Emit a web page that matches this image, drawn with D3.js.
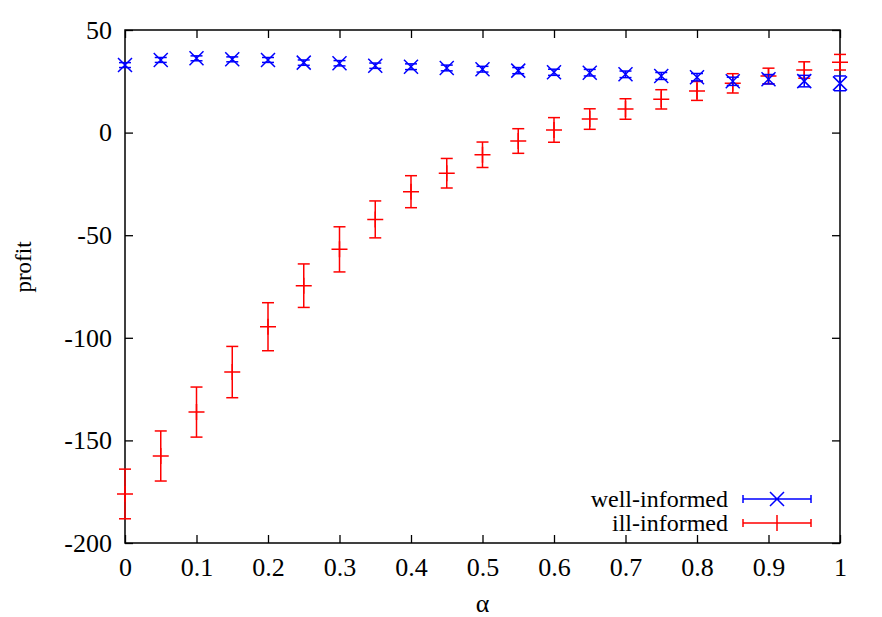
<!DOCTYPE html>
<html>
<head>
<meta charset="utf-8">
<script src="https://cdn.jsdelivr.net/npm/d3@7"></script>
<style>
  body { margin: 0; background: #fff; }
  svg text { font-family: "Times New Roman", "Liberation Serif", Times, Tinos, serif; fill: #000; }
</style>
</head>
<body>
<div id="container"></div>
<script>
var alphas = [0, 0.05, 0.1, 0.15, 0.2, 0.25, 0.3, 0.35, 0.4, 0.45, 0.5,
              0.55, 0.6, 0.65, 0.7, 0.75, 0.8, 0.85, 0.9, 0.95, 1];

var wellMean = [32.9, 35.4, 36.2, 35.7, 35.4, 34.1, 33.8, 32.6, 32.1, 31.5, 30.9,
                30.2, 29.4, 29.2, 28.4, 27.6, 27.0, 25.0, 26.0, 25.1, 24.0];
var wellErr  = [1.2, 1.2, 1.2, 1.2, 1.2, 1.3, 1.3, 1.3, 1.4, 1.4, 1.4,
                1.5, 1.5, 1.6, 1.6, 1.7, 1.8, 2.0, 2.3, 2.8, 3.6];

var illMean = [-176.1, -157.6, -136.2, -116.7, -94.6, -74.6, -56.9, -42.3, -28.8, -19.8, -10.8,
               -4.1, 1.3, 6.6, 11.5, 16.2, 20.3, 24.0, 27.6, 30.5, 34.3];
var illErr  = [12.1, 12.2, 12.2, 12.5, 11.7, 10.6, 11.0, 9.0, 7.8, 7.2, 6.2,
               6.0, 6.0, 5.0, 5.0, 4.7, 4.6, 4.7, 3.8, 4.0, 3.8];

var xTicks = [0, 0.1, 0.2, 0.3, 0.4, 0.5, 0.6, 0.7, 0.8, 0.9, 1];
var yTicks = [50, 0, -50, -100, -150, -200];

var WIDTH = 882, HEIGHT = 617;
var margin = {left: 125, right: 42, top: 30, bottom: 74};
var CAP = 6, MARK = 7, TICK = 8;

var svg = d3.select('#container').append('svg')
    .attr('width', WIDTH)
    .attr('height', HEIGHT);

var x = d3.scaleLinear().domain([0, 1]).range([margin.left, WIDTH - margin.right]);
var y = d3.scaleLinear().domain([-200, 50]).range([HEIGHT - margin.bottom, margin.top]);

// plain hyphen for negatives, like gnuplot
var plain = function(d) { return String(d); };

// axes with inward ticks on all four sides
var axisStyle = function(g) {
  g.attr('font-family', null).attr('font-size', null);
  g.select('.domain').remove();
  g.selectAll('line').attr('stroke', '#000').attr('stroke-width', 1.3);
  g.selectAll('text').style('font-size', '26px');
};

svg.append('g')
    .attr('transform', 'translate(0,' + y(-200) + ')')
    .call(d3.axisBottom(x).tickValues(xTicks).tickFormat(plain).tickSizeInner(-TICK).tickPadding(15))
    .call(axisStyle);
svg.append('g')
    .attr('transform', 'translate(0,' + y(50) + ')')
    .call(d3.axisTop(x).tickValues(xTicks).tickFormat('').tickSizeInner(-TICK))
    .call(axisStyle);
svg.append('g')
    .attr('transform', 'translate(' + x(0) + ',0)')
    .call(d3.axisLeft(y).tickValues(yTicks).tickFormat(plain).tickSizeInner(-TICK).tickPadding(13))
    .call(axisStyle);
svg.append('g')
    .attr('transform', 'translate(' + x(1) + ',0)')
    .call(d3.axisRight(y).tickValues(yTicks).tickFormat('').tickSizeInner(-TICK))
    .call(axisStyle);

svg.append('rect')
    .attr('x', x(0))
    .attr('y', y(50))
    .attr('width', x(1) - x(0))
    .attr('height', y(-200) - y(50))
    .attr('fill', 'none')
    .attr('stroke', '#000')
    .attr('stroke-width', 1.5);

// axis titles
svg.append('text')
    .attr('x', (x(0) + x(1)) / 2)
    .attr('y', 612)
    .attr('text-anchor', 'middle')
    .style('font-size', '26px')
    .text('α');
svg.append('text')
    .attr('transform', 'translate(31,267) rotate(-90)')
    .attr('text-anchor', 'middle')
    .style('font-size', '23px')
    .text('profit');

function drawSeries(means, errs, color, marker) {
  var data = alphas.map(function(a, i) { return {a: a, m: means[i], e: errs[i]}; });
  var g = svg.append('g')
      .attr('stroke', color)
      .attr('stroke-width', 1.5)
      .attr('fill', 'none');
  var pts = g.selectAll('g').data(data).enter().append('g');
  pts.append('line')
      .attr('x1', function(d) { return x(d.a); })
      .attr('x2', function(d) { return x(d.a); })
      .attr('y1', function(d) { return y(d.m - d.e); })
      .attr('y2', function(d) { return y(d.m + d.e); });
  [-1, 1].forEach(function(s) {
    pts.append('line')
        .attr('x1', function(d) { return x(d.a) - CAP; })
        .attr('x2', function(d) { return x(d.a) + CAP; })
        .attr('y1', function(d) { return y(d.m + s * d.e); })
        .attr('y2', function(d) { return y(d.m + s * d.e); });
  });
  pts.append('path')
      .attr('d', function(d) { return marker(x(d.a), y(d.m)); });
}

function crossX(cx, cy) {
  return 'M' + (cx - MARK) + ',' + (cy - MARK) + 'L' + (cx + MARK) + ',' + (cy + MARK) +
         'M' + (cx - MARK) + ',' + (cy + MARK) + 'L' + (cx + MARK) + ',' + (cy - MARK);
}
function plus(cx, cy) {
  return 'M' + (cx - MARK - 1) + ',' + cy + 'L' + (cx + MARK + 1) + ',' + cy +
         'M' + cx + ',' + (cy - MARK - 1) + 'L' + cx + ',' + (cy + MARK + 1);
}

drawSeries(illMean, illErr, '#ff0000', plus);
drawSeries(wellMean, wellErr, '#0000ff', crossX);

// legend
var legend = [
  {name: 'well-informed', color: '#0000ff', marker: crossX, y: 499},
  {name: 'ill-informed', color: '#ff0000', marker: plus, y: 523}
];
var lg = svg.append('g').selectAll('g').data(legend).enter().append('g');
lg.append('text')
    .attr('x', 728)
    .attr('y', function(d) { return d.y + 8; })
    .attr('text-anchor', 'end')
    .style('font-size', '24px')
    .text(function(d) { return d.name; });
lg.append('path')
    .attr('stroke', function(d) { return d.color; })
    .attr('stroke-width', 1.5)
    .attr('fill', 'none')
    .attr('d', function(d) {
      return 'M743,' + d.y + 'L811,' + d.y +
             'M743,' + (d.y - 4) + 'L743,' + (d.y + 4) +
             'M811,' + (d.y - 4) + 'L811,' + (d.y + 4) +
             d.marker(777, d.y);
    });
</script>
</body>
</html>
